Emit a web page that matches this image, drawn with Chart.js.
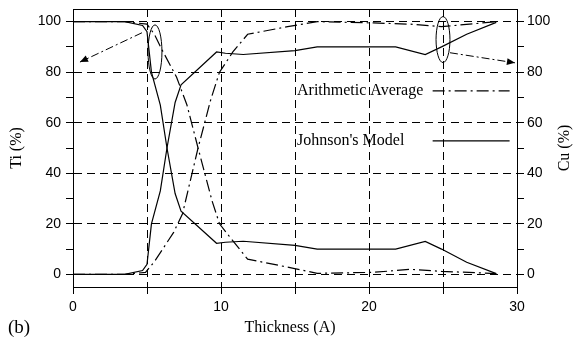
<!DOCTYPE html>
<html>
<head>
<meta charset="utf-8">
<script src="https://cdn.jsdelivr.net/npm/chart.js@4"></script>
<style>
  html, body { margin: 0; padding: 0; background: #fff; }
</style>
</head>
<body>
<canvas id="chart" width="574" height="340"></canvas>
<script>
// Johnson's model (solid lines)
const modelThickness = [0, 3.5, 4.7, 5.0, 5.3, 5.9, 6.35, 6.9, 7.3, 9.7, 10.3, 11.5, 15, 16.5, 21.8, 23.8, 24.9, 26.6, 28.6];
const modelTi = [100, 100, 98.5, 96, 80, 67, 50, 32, 25, 12.3, 12.7, 13.1, 11.5, 10, 10, 13, 10, 4.8, 0.3];
const modelCu = [0, 0, 1.5, 4, 20, 33, 50, 68, 75, 88, 87.5, 87, 88.5, 90, 90, 87, 90, 95, 99.7];

// arithmetic average (dash-dot lines)
const avgTiThickness = [0, 3.5, 5, 5.5, 6, 7, 7.7, 8.45, 9.4, 9.9, 10.7, 11.8, 14.9, 16.5, 20.3, 22.8, 24.9, 28.6];
const avgTi = [100, 100, 99, 95, 89, 78, 67, 50, 29, 20, 14, 6, 2.4, 0.4, 0.8, 2, 1.2, 0.3];
const avgCuThickness = [0, 3.5, 4.9, 5.5, 6.8, 7.4, 8.45, 9.3, 9.9, 10.8, 11.8, 14.5, 16.5, 20.3, 22.8, 24.9, 28.6];
const avgCu = [0, 0, 0.8, 5, 16.6, 24, 50, 69, 80, 88, 95, 98, 100, 99.5, 99, 98, 100];

// ticks
const xTickValues = [0, 5, 10, 15, 20, 25, 30];
const xTickLabels = ['0', '', '10', '', '20', '', '30'];
const yTickValues = [0, 10, 20, 30, 40, 50, 60, 70, 80, 90, 100];
const yTickLabels = ['0', '', '20', '', '40', '', '60', '', '80', '', '100'];

const legendLabels = ['Arithmetic Average', "Johnson's Model"];

const DASH_DOT = [12, 4, 2, 4];
const SERIF = 'Liberation Serif';
const SANS = 'Liberation Sans';

function pts(xs, ys) {
  return xs.map((v, i) => ({ x: v, y: ys[i] }));
}

function lineSet(label, data, dash, axis) {
  return {
    label: label,
    data: data,
    showLine: true,
    borderColor: '#000',
    borderWidth: 1.2,
    borderDash: dash,
    pointRadius: 0,
    tension: 0,
    yAxisID: axis
  };
}

// y axis shared setup (left and right)
function yAxis(pos, onChart, width, pad) {
  return {
    type: 'linear',
    position: pos,
    min: -5,
    max: 105,
    afterBuildTicks: s => { s.ticks = yTickValues.map(v => ({ value: v })); },
    afterFit: s => { s.width = width; s.paddingTop = 0; s.paddingBottom = 0; },
    ticks: {
      callback: (v, i) => yTickLabels[i],
      color: '#000',
      font: { family: SANS, size: 14 },
      padding: pad,
      autoSkip: false
    },
    grid: {
      drawOnChartArea: onChart,
      color: c => (c.tick && c.tick.value % 20 === 0) ? '#000' : 'rgba(0,0,0,0)',
      tickColor: '#000',
      tickLength: 7,
      tickBorderDash: [],
      lineWidth: 1
    },
    border: { display: true, color: '#000', width: 1, dash: [8, 5] }
  };
}

const extras = {
  id: 'extras',
  afterDraw(chart) {
    const { ctx, chartArea: a, scales } = chart;
    const x = scales.x, y = scales.y;
    const px = v => x.getPixelForValue(v);
    const py = v => y.getPixelForValue(v);
    ctx.save();
    ctx.strokeStyle = '#000';
    ctx.fillStyle = '#000';
    ctx.lineWidth = 1;

    // top frame
    ctx.beginPath();
    ctx.moveTo(a.left, Math.round(a.top) + 0.5);
    ctx.lineTo(a.right, Math.round(a.top) + 0.5);
    ctx.stroke();

    // ellipses marking the interfaces
    [[5.54, 88, 0.47, 10.7], [25, 92.9, 0.47, 9.1]].forEach(e => {
      ctx.beginPath();
      ctx.ellipse(px(e[0]), py(e[1]), px(e[0] + e[2]) - px(e[0]), py(e[1]) - py(e[1] + e[3]), 0, 0, Math.PI * 2);
      ctx.stroke();
    });

    // dash-dot arrows pointing at the axes
    [[4.66, 95.6, 0.47, 84], [25.47, 87.7, 29.86, 83.7]].forEach(r => {
      const x1 = px(r[0]), y1 = py(r[1]), x2 = px(r[2]), y2 = py(r[3]);
      ctx.save();
      ctx.setLineDash([8, 3, 2, 3]);
      ctx.beginPath();
      ctx.moveTo(x1, y1);
      ctx.lineTo(x2, y2);
      ctx.stroke();
      ctx.restore();
      const ang = Math.atan2(y2 - y1, x2 - x1);
      ctx.beginPath();
      ctx.moveTo(x2, y2);
      ctx.lineTo(x2 - 8 * Math.cos(ang) + 3.5 * Math.sin(ang), y2 - 8 * Math.sin(ang) - 3.5 * Math.cos(ang));
      ctx.lineTo(x2 - 8 * Math.cos(ang) - 3.5 * Math.sin(ang), y2 - 8 * Math.sin(ang) + 3.5 * Math.cos(ang));
      ctx.closePath();
      ctx.fill();
    });

    // legend inside the plot
    ctx.font = '16px "' + SERIF + '"';
    ctx.textAlign = 'left';
    ctx.textBaseline = 'middle';
    const rows = [[72.6, DASH_DOT], [52.8, []]];
    rows.forEach((r, i) => {
      ctx.fillText(legendLabels[i], px(15) + 2, py(r[0]));
      ctx.save();
      ctx.setLineDash(r[1]);
      ctx.lineWidth = 1.2;
      ctx.beginPath();
      ctx.moveTo(px(24.3), py(r[0]));
      ctx.lineTo(px(29.5), py(r[0]));
      ctx.stroke();
      ctx.restore();
    });

    // right axis title, reading upward
    ctx.save();
    ctx.translate(565, (a.top + a.bottom) / 2);
    ctx.rotate(-Math.PI / 2);
    ctx.textAlign = 'center';
    ctx.fillText('Cu (%)', 0, 0);
    ctx.restore();

    // bottom axis title, sitting a little left of centre as in the source
    ctx.textAlign = 'center';
    ctx.fillText('Thickness (A)', (a.left + a.right) / 2 - 5, 328);

    // panel label
    ctx.font = '19px "' + SERIF + '"';
    ctx.textAlign = 'left';
    ctx.fillText('(b)', 8, 328);
    ctx.restore();
  }
};

new Chart(document.getElementById('chart'), {
  type: 'scatter',
  data: {
    datasets: [
      lineSet('Ti model', pts(modelThickness, modelTi), [], 'y'),
      lineSet('Cu model', pts(modelThickness, modelCu), [], 'y2'),
      lineSet('Ti average', pts(avgTiThickness, avgTi), DASH_DOT, 'y'),
      lineSet('Cu average', pts(avgCuThickness, avgCu), DASH_DOT, 'y2')
    ]
  },
  options: {
    responsive: false,
    animation: false,
    devicePixelRatio: 1,
    layout: { padding: { top: 9, left: 0, right: 0, bottom: 0 } },
    plugins: { legend: { display: false }, tooltip: { enabled: false } },
    scales: {
      x: {
        type: 'linear',
        min: 0,
        max: 30,
        afterBuildTicks: s => { s.ticks = xTickValues.map(v => ({ value: v })); },
        afterFit: s => { s.height = 53; s.paddingLeft = 0; s.paddingRight = 0; },
        ticks: {
          callback: (v, i) => xTickLabels[i],
          color: '#000',
          font: { family: SANS, size: 14 },
          padding: 5,
          maxRotation: 0,
          autoSkip: false
        },
        grid: {
          color: c => (c.tick && c.tick.value > 0 && c.tick.value < 30) ? '#000' : 'rgba(0,0,0,0)',
          tickColor: '#000',
          tickLength: 7,
          tickBorderDash: [],
          lineWidth: 1
        },
        border: { display: true, color: '#000', width: 1, dash: [8, 5] }
      },
      y: Object.assign(yAxis('left', true, 73, 5), {
        title: {
          display: true,
          text: 'Ti (%)',
          color: '#000',
          font: { family: SERIF, size: 16 },
          padding: { top: 7, bottom: 0 }
        }
      }),
      y2: yAxis('right', false, 57, 3)
    }
  },
  plugins: [extras]
});
</script>
</body>
</html>
